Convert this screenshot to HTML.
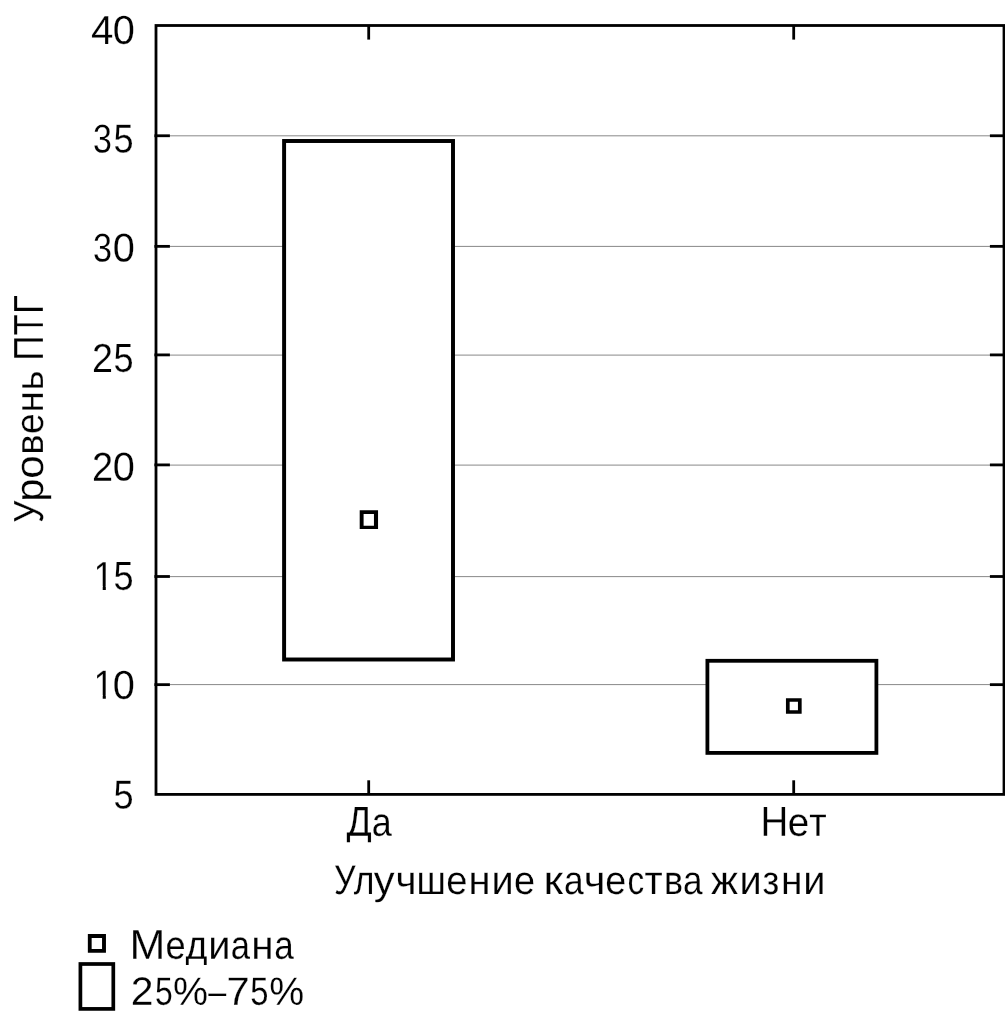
<!DOCTYPE html>
<html lang="ru"><head><meta charset="utf-8"><title>Уровень ПТГ — Улучшение качества жизни</title>
<style>
html,body{margin:0;padding:0;background:#fff;}
body{width:1005px;height:1020px;overflow:hidden;}
svg{display:block;}
text{font-family:"Liberation Sans",sans-serif;font-size:1px;fill:#000;text-rendering:geometricPrecision;stroke:#fff;stroke-width:0.005px;}
</style></head><body>
<svg width="1005" height="1020" viewBox="0 0 1005 1020">
<defs>
<clipPath id="c1"><path d="M0 -0.8H0.3445V-0.095H0.3375V0.1H0.2525V-0.095H0Z"/></clipPath>
<clipPath id="cD"><rect x="341.7" y="795.0" width="52.8" height="47.30"/></clipPath>
<clipPath id="cM"><rect x="128.1" y="918.0" width="168.3" height="46.90"/></clipPath>
</defs>
<rect width="1005" height="1020" fill="#fff"/>
<g stroke="#888" stroke-width="1">
<line x1="169.5" y1="135.82" x2="990.3" y2="135.82"/>
<line x1="169.5" y1="246.4" x2="990.3" y2="246.4"/>
<line x1="169.5" y1="355.1" x2="990.3" y2="355.1"/>
<line x1="169.5" y1="465.1" x2="990.3" y2="465.1"/>
<line x1="169.5" y1="576.62" x2="990.3" y2="576.62"/>
<line x1="169.5" y1="684.6" x2="990.3" y2="684.6"/>
</g>
<g stroke="#000" stroke-width="2.8" fill="none">
<rect x="156" y="25.5" width="848" height="768.9"/>
<line x1="154.4" y1="135.76" x2="169.9" y2="135.76"/>
<line x1="154.4" y1="246.36" x2="169.9" y2="246.36"/>
<line x1="154.4" y1="354.9" x2="169.9" y2="354.9"/>
<line x1="154.4" y1="464.9" x2="169.9" y2="464.9"/>
<line x1="154.4" y1="576.5" x2="169.9" y2="576.5"/>
<line x1="154.4" y1="684.65" x2="169.9" y2="684.65"/>
<line x1="989.9" y1="135.76" x2="1004" y2="135.76"/>
<line x1="989.9" y1="246.36" x2="1004" y2="246.36"/>
<line x1="989.9" y1="354.9" x2="1004" y2="354.9"/>
<line x1="989.9" y1="464.9" x2="1004" y2="464.9"/>
<line x1="989.9" y1="576.5" x2="1004" y2="576.5"/>
<line x1="989.9" y1="684.65" x2="1004" y2="684.65"/>
<line x1="368.7" y1="25.5" x2="368.7" y2="39.6"/>
<line x1="793.7" y1="25.5" x2="793.7" y2="39.6"/>
<line x1="368.7" y1="794.4" x2="368.7" y2="780.3"/>
<line x1="793.7" y1="794.4" x2="793.7" y2="780.3"/>
</g>
<g stroke="#000" fill="#fff">
<rect x="284.1" y="141.0" width="168.9" height="518.5" stroke-width="3.95"/>
<rect x="707.4" y="660.8" width="169.0" height="92.1" stroke-width="3.8"/>
<rect x="80.4" y="964.0" width="32.9" height="44.9" stroke-width="3.7"/>
</g>
<g fill="#000">
<path fill-rule="evenodd" d="M359.7 510.25H378.05V529.05H359.7Z M363.6 514.0H373.95V525.75H363.6Z"/>
<path fill-rule="evenodd" d="M785.95 698.15H801.65V713.85H785.95Z M789.65 701.85H797.95V710.15H789.65Z"/>
<path fill-rule="evenodd" d="M87.85 934.05H105.95V952.75H87.85Z M91.65 938.05H102.05V949.0H91.65Z"/>
</g>
<g opacity="0.999">
<text transform="matrix(40.285 0.002 0 40.605 90.98 43.90)">4</text>
<text transform="matrix(39.754 0.002 0 40.169 112.65 43.75)">0</text>
<text transform="matrix(33.983 0.002 0 40.166 92.90 152.45)">3</text>
<text transform="matrix(36.119 0.002 0 40.381 113.53 152.45)">5</text>
<text transform="matrix(34.194 0.002 0 40.166 92.89 261.45)">3</text>
<text transform="matrix(39.754 0.002 0 40.169 112.65 261.45)">0</text>
<text transform="matrix(37.753 0.002 0 40.383 92.00 371.90)">2</text>
<text transform="matrix(36.119 0.002 0 40.381 113.53 371.75)">5</text>
<text transform="matrix(37.972 0.002 0 40.383 91.99 480.70)">2</text>
<text transform="matrix(39.754 0.002 0 40.169 112.65 480.55)">0</text>
<text clip-path="url(#c1)" transform="matrix(36.387 0.002 0 40.605 93.53 590.00)">1</text>
<text transform="matrix(36.119 0.002 0 40.381 113.53 589.85)">5</text>
<text clip-path="url(#c1)" transform="matrix(36.387 0.002 0 40.605 93.53 698.80)">1</text>
<text transform="matrix(39.754 0.002 0 40.169 112.65 698.65)">0</text>
<text transform="matrix(36.119 0.002 0 40.381 113.53 808.55)">5</text>
<g clip-path="url(#cD)">
<text transform="matrix(37.305 0.002 0 41.842 346.43 835.80)">Д</text>
<text transform="matrix(35.978 0.002 0 39.750 371.87 835.80)">а</text>
</g>
<text transform="matrix(38.489 0.002 0 41.842 760.44 835.80)">Н</text>
<text transform="matrix(38.575 0.002 0 39.750 787.76 835.80)">е</text>
<text transform="matrix(37.986 0.002 0 39.750 809.25 835.80)">т</text>
<text transform="matrix(33.952 0.002 0 41.552 334.03 894.00)">У</text>
<text transform="matrix(35.574 0.002 0 40.129 353.71 894.00)">л</text>
<text transform="matrix(41.689 0.002 0 40.129 373.77 894.00)">у</text>
<text transform="matrix(40.346 0.002 0 40.129 395.40 894.00)">ч</text>
<text transform="matrix(36.619 0.002 0 40.129 416.46 894.00)">ш</text>
<text transform="matrix(38.149 0.002 0 40.129 446.18 894.00)">е</text>
<text transform="matrix(39.895 0.002 0 40.129 468.53 894.00)">н</text>
<text transform="matrix(39.768 0.002 0 40.129 491.54 894.00)">и</text>
<text transform="matrix(37.936 0.002 0 40.129 513.89 894.00)">е</text>
<text transform="matrix(44.654 0.002 0 40.129 543.59 894.00)">к</text>
<text transform="matrix(35.308 0.002 0 40.129 563.90 894.00)">а</text>
<text transform="matrix(41.623 0.002 0 40.129 583.72 894.00)">ч</text>
<text transform="matrix(37.723 0.002 0 40.129 605.30 894.00)">е</text>
<text transform="matrix(33.433 0.002 0 40.129 627.58 894.00)">с</text>
<text transform="matrix(39.637 0.002 0 40.129 644.42 894.00)">т</text>
<text transform="matrix(35.853 0.002 0 40.129 664.11 894.00)">в</text>
<text transform="matrix(35.085 0.002 0 40.129 683.11 894.00)">а</text>
<text transform="matrix(40.294 0.002 0 40.129 711.02 894.00)">ж</text>
<text transform="matrix(39.768 0.002 0 40.129 739.54 894.00)">и</text>
<text transform="matrix(36.632 0.002 0 40.129 762.38 894.00)">з</text>
<text transform="matrix(38.928 0.002 0 40.129 781.10 894.00)">н</text>
<text transform="matrix(39.768 0.002 0 40.129 803.14 894.00)">и</text>
<g clip-path="url(#cM)">
<text transform="matrix(43.052 0.002 0 41.697 129.57 958.70)">М</text>
<text transform="matrix(36.231 0.002 0 39.750 165.56 958.70)">е</text>
<text transform="matrix(37.725 0.002 0 39.750 185.53 958.70)">д</text>
<text transform="matrix(39.768 0.002 0 39.750 208.34 958.70)">и</text>
<text transform="matrix(34.638 0.002 0 39.750 230.83 958.70)">а</text>
<text transform="matrix(40.379 0.002 0 39.750 251.30 958.70)">н</text>
<text transform="matrix(35.085 0.002 0 39.750 274.21 958.70)">а</text>
</g>
<text transform="matrix(40.826 0.002 0 39.375 130.85 1004.71)">2</text>
<text transform="matrix(31.894 0.002 0 39.375 154.90 1004.71)">5</text>
<text transform="matrix(39.371 0.002 0 39.375 173.10 1004.71)">%</text>
<text transform="matrix(32.394 0.002 0 39.375 208.20 1004.71)">–</text>
<text transform="matrix(41.574 0.002 0 39.375 226.47 1004.71)">7</text>
<text transform="matrix(32.739 0.002 0 39.375 250.37 1004.71)">5</text>
<text transform="matrix(39.249 0.002 0 39.375 269.20 1004.71)">%</text>
<text transform="matrix(0.002 -34.608 42.133 0 42.90 522.69)">У</text>
<text transform="matrix(0.002 -42.059 39.561 0 42.90 501.82)">р</text>
<text transform="matrix(0.002 -42.153 39.561 0 42.90 478.67)">о</text>
<text transform="matrix(0.002 -38.243 39.561 0 42.90 454.75)">в</text>
<text transform="matrix(0.002 -37.296 39.561 0 42.90 433.89)">е</text>
<text transform="matrix(0.002 -38.686 39.561 0 42.90 412.58)">н</text>
<text transform="matrix(0.002 -38.474 39.561 0 42.90 390.57)">ь</text>
<text transform="matrix(0.002 -35.266 42.133 0 42.90 360.76)">П</text>
<text transform="matrix(0.002 -34.310 42.133 0 42.90 335.17)">Т</text>
<text transform="matrix(0.002 -34.019 42.133 0 42.90 313.69)">Г</text>
</g>
</svg>
</body></html>
